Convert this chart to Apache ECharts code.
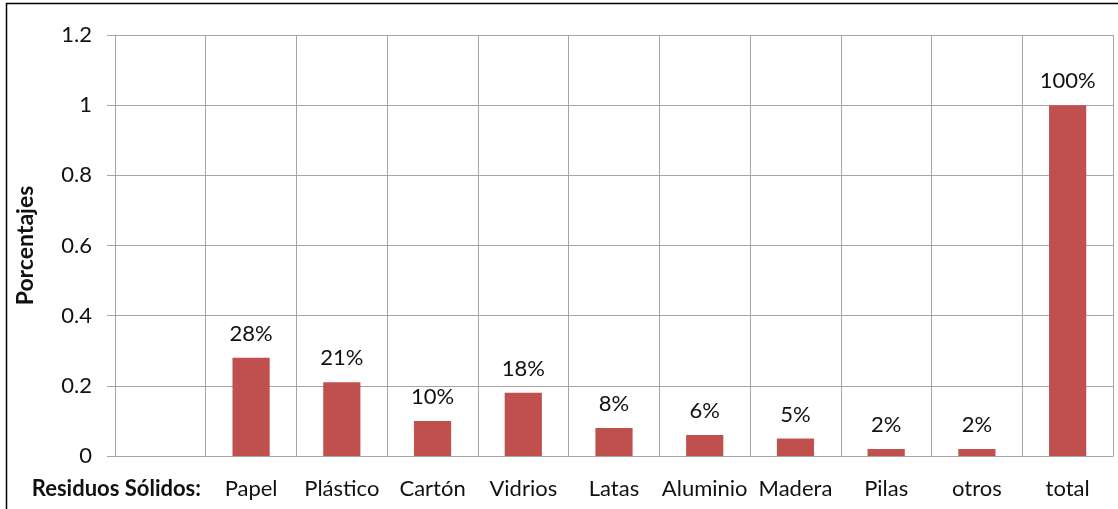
<!DOCTYPE html>
<html>
<head>
<meta charset="utf-8">
<script src="https://cdn.jsdelivr.net/npm/echarts@6/dist/echarts.min.js"></script>
<style>
  html, body { margin: 0; padding: 0; background: #ffffff; }
  #chart { width: 1118px; height: 509px; }
</style>
</head>
<body>
<div id="chart"></div>
<script>
// Composición de residuos sólidos (fracción del total)
const categories = ['Residuos Sólidos:', 'Papel', 'Plástico', 'Cartón', 'Vidrios', 'Latas', 'Aluminio', 'Madera', 'Pilas', 'otros', 'total'];
const values = [null, 0.28, 0.21, 0.10, 0.18, 0.08, 0.06, 0.05, 0.02, 0.02, 1.00];
const yTicks = { min: 0, max: 1.2, step: 0.2 };
const yAxisTitle = 'Porcentajes';

const FONT = 'Lato';
const GRID = '#a6a6a6';
const INK = '#111111';

const chart = echarts.init(document.getElementById('chart'), null, { renderer: 'canvas' });

chart.setOption({
  backgroundColor: '#ffffff',
  animation: false,
  textStyle: { fontFamily: FONT },
  grid: { left: 115, right: 5, top: 35, bottom: 53, containLabel: false },
  graphic: [{
    type: 'rect',
    shape: { x: 6.5, y: 3.5, width: 1130, height: 520 },
    style: { fill: null, stroke: '#000000', lineWidth: 1.5 },
    silent: true
  }],
  xAxis: {
    type: 'category',
    data: categories,
    boundaryGap: true,
    axisLine: { show: true, lineStyle: { color: GRID, width: 1 } },
    axisTick: { show: false },
    splitLine: { show: true, lineStyle: { color: GRID, width: 1 } },
    axisLabel: {
      interval: 0,
      margin: 22,
      color: INK,
      fontFamily: FONT,
      fontSize: 22,
      formatter: function (v, i) {
        return i === 0 ? '{lead|' + v + '}' : v;
      },
      rich: {
        lead: {
          fontFamily: FONT,
          fontSize: 22,
          fontWeight: 'bold',
          color: INK,
          padding: [0, 88, 0, 0]
        }
      }
    }
  },
  yAxis: {
    type: 'value',
    min: yTicks.min,
    max: yTicks.max,
    interval: yTicks.step,
    name: yAxisTitle,
    nameLocation: 'middle',
    nameGap: 78,
    nameRotate: 90,
    nameTextStyle: { fontFamily: FONT, fontSize: 23, fontWeight: 'bold', color: INK },
    axisLine: { show: true, lineStyle: { color: GRID, width: 1 } },
    axisTick: { show: true, length: 8, lineStyle: { color: GRID, width: 1 } },
    splitLine: { show: true, lineStyle: { color: GRID, width: 1 } },
    axisLabel: {
      margin: 23,
      color: INK,
      fontFamily: FONT,
      fontSize: 22,
      formatter: function (v) { return String(+v.toFixed(1)); }
    }
  },
  series: [{
    type: 'bar',
    data: values,
    barWidth: '41%',
    itemStyle: { color: '#c0504d' },
    label: {
      show: true,
      position: 'top',
      distance: 13,
      color: INK,
      fontFamily: FONT,
      fontSize: 22,
      formatter: function (p) { return Math.round(p.value * 100) + '%'; }
    }
  }]
});
</script>
</body>
</html>
